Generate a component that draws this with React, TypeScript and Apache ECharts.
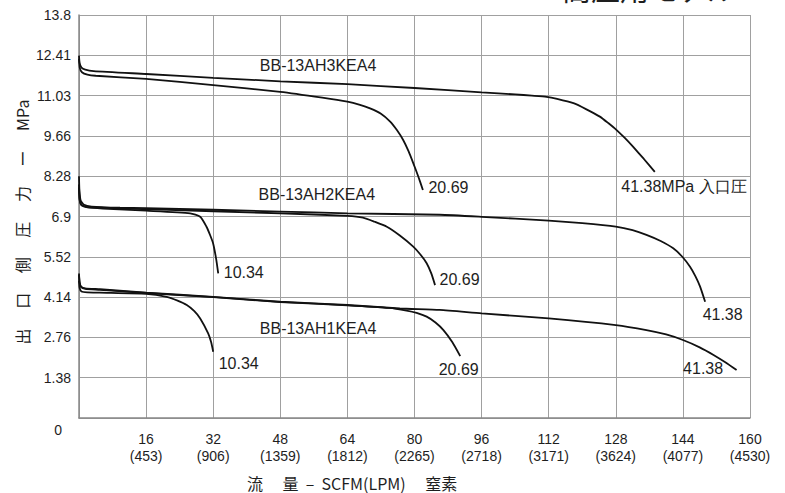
import React, { useEffect, useRef } from 'react';
import * as echarts from 'echarts';

// X axis: SCFM ticks and matching LPM values
const xTicks = [0, 16, 32, 48, 64, 80, 96, 112, 128, 144, 160];
const lpmTicks = ['', '(453)', '(906)', '(1359)', '(1812)', '(2265)', '(2718)', '(3171)', '(3624)', '(4077)', '(4530)'];
// Y axis tick labels (MPa)
const yTickLabels = ['0', '1.38', '2.76', '4.14', '5.52', '6.9', '8.28', '9.66', '11.03', '12.41', '13.8'];

// Model names
const modelNames = ['BB-13AH3KEA4', 'BB-13AH2KEA4', 'BB-13AH1KEA4'];
// Inlet pressure labels
const inletLabels = ['41.38MPa 入口圧', '41.38', '20.69', '10.34'];

// Flow curves: [SCFM, outlet MPa]
const h3Inlet4138 = [
  [0, 12.41], [0.15, 12.15], [0.6, 12.0], [1.5, 11.93], [3.5, 11.88], [16, 11.78], [32, 11.65], [48, 11.53],
  [64, 11.43], [80, 11.3], [96, 11.15], [104, 11.08], [108, 11.04], [111.5, 11.0], [114, 10.93], [117.9, 10.78],
  [121, 10.57], [124.2, 10.32], [126.2, 10.1], [128.2, 9.86], [130.2, 9.58], [132.1, 9.29], [134.7, 8.87],
  [137.3, 8.43],
];
const h3Inlet2069 = [
  [0, 12.3], [0.2, 11.98], [0.7, 11.84], [2, 11.76], [4, 11.72], [16, 11.61], [32, 11.4], [48, 11.17],
  [58, 10.97], [64, 10.83], [67, 10.72], [69.4, 10.6], [72, 10.42], [74.2, 10.15], [75.8, 9.86], [77.3, 9.52],
  [78.6, 9.13], [79.7, 8.73], [80.9, 8.27], [82, 7.81],
];
const h2Inlet4138 = [
  [0, 8.28], [0.1, 7.8], [0.4, 7.45], [1.2, 7.3], [3, 7.24], [9.8, 7.2], [16, 7.19], [48, 7.07], [64, 7.01],
  [86, 6.96], [96, 6.89], [112, 6.76], [120, 6.67], [128, 6.55], [132, 6.43], [135.3, 6.27], [138.7, 6.06],
  [141.7, 5.81], [143.8, 5.53], [145.7, 5.18], [147, 4.85], [148.1, 4.5], [149.3, 3.98],
];
const h2Inlet2069 = [
  [0, 8.0], [0.15, 7.5], [0.6, 7.3], [2, 7.22], [16, 7.15], [48, 7.01], [64, 6.92], [67.7, 6.86], [70.5, 6.72],
  [73.4, 6.55], [76.5, 6.25], [79.7, 5.87], [81.4, 5.6], [82.9, 5.3], [84, 4.95], [84.9, 4.55],
];
const h2Inlet1034 = [
  [0, 7.9], [0.15, 7.45], [0.6, 7.28], [2, 7.21], [5.7, 7.17], [16, 7.1], [26.5, 7.01], [28.9, 6.89],
  [30.4, 6.55], [31.3, 6.25], [32, 5.97], [32.7, 5.45], [33.2, 4.95],
];
const h1Inlet4138 = [
  [0, 4.95], [0.15, 4.65], [0.5, 4.5], [1.5, 4.44], [5, 4.41], [16, 4.29], [32, 4.15], [48, 3.98], [64, 3.87],
  [76.5, 3.75], [86, 3.7], [96, 3.58], [112, 3.41], [128, 3.18], [135.3, 3.01], [140, 2.86], [144, 2.67],
  [148, 2.42], [151.3, 2.16], [154.2, 1.9], [156.8, 1.64],
];
const h1Inlet2069 = [
  [0, 4.9], [0.15, 4.62], [0.5, 4.48], [1.5, 4.42], [5, 4.39], [16, 4.28], [32, 4.14], [48, 3.97], [64, 3.86],
  [74, 3.77], [78.1, 3.68], [80.5, 3.6], [82.9, 3.47], [85, 3.27], [86.9, 3.01], [89, 2.6], [90.9, 2.12],
];
const h1Inlet1034 = [
  [0, 4.7], [0.15, 4.45], [0.6, 4.33], [2, 4.3], [5, 4.29], [16, 4.25], [20.9, 4.15], [23.5, 4.02],
  [25.7, 3.87], [27.5, 3.66], [28.9, 3.41], [30.8, 2.9], [31.5, 2.6], [32, 2.27],
];

const TEXT = '#1e1e1e';
const LATIN = '"Liberation Sans", Arial, sans-serif';
const CJK = '"Noto Sans CJK JP", sans-serif';

const labelStyle = { color: TEXT, fontSize: 16, fontFamily: LATIN };

function curve(
  name: string,
  data: number[][],
  endText: string,
  offset: number[],
  model?: { text: string; coord: number[] },
) {
  const marks: any[] = [
    {
      coord: data[data.length - 1],
      label: { show: true, formatter: endText, position: 'right', distance: 0, offset, ...labelStyle },
    },
  ];
  if (model) {
    marks.push({
      coord: model.coord,
      label: { show: true, formatter: model.text, position: 'inside', ...labelStyle },
    });
  }
  return {
    type: 'line',
    name,
    data,
    symbol: 'none',
    smooth: 0.2,
    silent: true,
    lineStyle: { color: '#111', width: 1.8 },
    markPoint: {
      symbol: 'circle',
      symbolSize: 1,
      silent: true,
      itemStyle: { color: 'rgba(0,0,0,0)' },
      data: marks,
    },
  };
}

export default function App() {
  const ref = useRef<HTMLDivElement>(null);
  useEffect(() => {
    document.body.style.margin = '0';
    const chart = echarts.init(ref.current!, null, { renderer: 'svg' });
    const option: any = {
      animation: false,
      backgroundColor: '#fff',
      grid: { left: 79, right: 35, top: 15, bottom: 75, containLabel: false },
      xAxis: {
        type: 'value',
        min: xTicks[0],
        max: xTicks[xTicks.length - 1],
        interval: 16,
        axisLine: { show: true, lineStyle: { color: '#888', width: 1.5 } },
        axisTick: { show: false },
        splitLine: { show: true, lineStyle: { color: '#a0a0a0', width: 1 } },
        axisLabel: {
          margin: 12,
          color: TEXT,
          fontSize: 14,
          lineHeight: 17,
          fontFamily: LATIN,
          formatter: (v: number) => {
            const i = xTicks.indexOf(Math.round(v));
            if (i <= 0) return '';
            return `${xTicks[i]}\n${lpmTicks[i]}`;
          },
        },
      },
      yAxis: {
        type: 'value',
        min: 0,
        max: 13.8,
        interval: 1.38,
        axisLine: { show: true, lineStyle: { color: '#888', width: 1.5 } },
        axisTick: { show: false },
        splitLine: { show: true, lineStyle: { color: '#a0a0a0', width: 1 } },
        axisLabel: {
          margin: 8,
          color: TEXT,
          fontSize: 14,
          fontFamily: LATIN,
          formatter: (v: number) => {
            const i = Math.round(v / 1.38);
            return i === 0 ? '{z|' + yTickLabels[0] + '}' : yTickLabels[i];
          },
          rich: {
            z: { color: TEXT, fontSize: 14, fontFamily: LATIN, padding: [24, 9, 0, 0] },
          },
        },
      },
      graphic: [
        {
          type: 'text',
          left: 562,
          top: -27,
          style: { text: '高圧用モデル', fill: TEXT, fontSize: 29, fontFamily: CJK },
          silent: true,
        },
        {
          type: 'text',
          x: 22,
          y: 222,
          rotation: Math.PI / 2,
          style: {
            text: '出　 口　 側　 圧　 力　 ー　 MPa',
            fill: TEXT,
            fontSize: 16,
            fontFamily: CJK,
            align: 'center',
            verticalAlign: 'middle',
          },
          silent: true,
        },
        {
          type: 'text',
          x: 247,
          y: 483,
          style: {
            text: '流　 量  –  SCFM(LPM)　 窒素',
            fill: TEXT,
            fontSize: 16,
            fontFamily: CJK,
            align: 'left',
            verticalAlign: 'middle',
          },
          silent: true,
        },
      ],
      series: [
        curve('H3-41.38', h3Inlet4138, inletLabels[0], [-34, 15], { text: modelNames[0], coord: [57, 12.07] }),
        curve('H3-20.69', h3Inlet2069, inletLabels[2], [5, -2]),
        curve('H2-41.38', h2Inlet4138, inletLabels[1], [-3, 13], { text: modelNames[1], coord: [56.7, 7.67] }),
        curve('H2-20.69', h2Inlet2069, inletLabels[2], [4, -6]),
        curve('H2-10.34', h2Inlet1034, inletLabels[3], [5, -1]),
        curve('H1-41.38', h1Inlet4138, inletLabels[1], [-54, -2], { text: modelNames[2], coord: [57, 3.05] }),
        curve('H1-20.69', h1Inlet2069, inletLabels[2], [-22, 13]),
        curve('H1-10.34', h1Inlet1034, inletLabels[3], [5, 12]),
      ],
    };
    chart.setOption(option);
    return () => chart.dispose();
  }, []);
  return <div ref={ref} style={{ width: 785, height: 493 }} />;
}
